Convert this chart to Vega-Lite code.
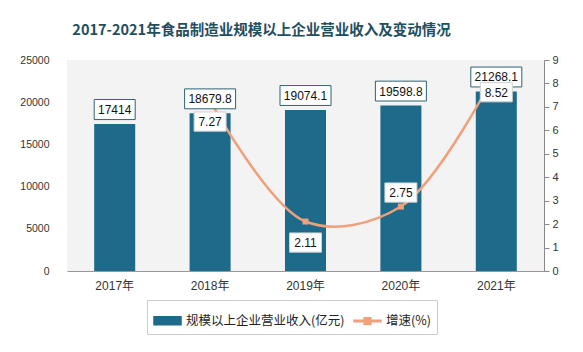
{
  "$schema": "https://vega.github.io/schema/vega-lite/v6.json",
  "width": 477,
  "height": 211,
  "autosize": "none",
  "padding": {"left": 67, "top": 60, "right": 39, "bottom": 81},
  "background": "white",
  "title": {
    "text": "2017-2021年食品制造业规模以上企业营业收入及变动情况",
    "font": "Noto Sans CJK SC",
    "fontSize": 14.5,
    "fontWeight": "bold",
    "color": "#1f4e5f",
    "anchor": "middle",
    "dx": -44,
    "offset": 16
  },
  "data": {
    "values": [
      {"year": "2017年", "rev": 17414, "growth": null},
      {"year": "2018年", "rev": 18679.8, "growth": 7.27},
      {"year": "2019年", "rev": 19074.1, "growth": 2.11},
      {"year": "2020年", "rev": 19598.8, "growth": 2.75},
      {"year": "2021年", "rev": 21268.1, "growth": 8.52}
    ]
  },
  "encoding": {
    "x": {
      "field": "year",
      "type": "ordinal",
      "scale": {"paddingInner": 0.57, "paddingOuter": 0.285},
      "axis": {
        "title": null,
        "labelAngle": 0,
        "ticks": false,
        "domainColor": "#999999",
        "labelFont": "Liberation Sans, Noto Sans CJK SC",
        "labelFontSize": 12,
        "labelColor": "#333333",
        "labelPadding": 9
      }
    }
  },
  "layer": [
    {
      "mark": {"type": "bar", "color": "#1e6a8b"},
      "encoding": {
        "y": {
          "field": "rev",
          "type": "quantitative",
          "scale": {"domain": [0, 25000]},
          "axis": {
            "orient": "left",
            "title": null,
            "values": [0, 5000, 10000, 15000, 20000, 25000],
            "format": "d",
            "domain": false,
            "ticks": false,
            "grid": false,
            "labelPadding": 18,
            "labelFont": "Liberation Sans",
            "labelFontSize": 10.5,
            "labelColor": "#333333"
          }
        },
        "color": {
          "datum": "规模以上企业营业收入(亿元)",
          "scale": {
            "domain": ["规模以上企业营业收入(亿元)", "增速(%)"],
            "range": ["#1e6a8b", "#f0a07a"]
          },
          "legend": {
            "orient": "none",
            "legendX": 80,
            "legendY": 240,
            "direction": "horizontal",
            "title": null,
            "labelFont": "Noto Sans CJK SC",
            "labelFontSize": 12.5,
            "labelColor": "#222222",
            "strokeColor": "#cccccc",
            "padding": 6,
            "symbolSize": 729,
            "columnPadding": 6,
            "labelLimit": 300,
            "encode": {
              "symbols": {
                "update": {
                  "shape": {"signal": "datum.value == '增速(%)' ? 'M-1,-0.06H1V0.06H-1Z M-0.25,-0.25H0.25V0.25H-0.25Z' : 'M-1,-0.3H1V0.3H-1Z'"},
                  "fill": {"scale": "color", "field": "value"},
                  "fillOpacity": {"value": 1},
                  "stroke": {"value": null},
                  "opacity": {"value": 1}
                }
              }
            }
          }
        }
      }
    },
    {
      "transform": [{"filter": "datum.growth != null"}],
      "encoding": {
        "y": {
          "field": "growth",
          "type": "quantitative",
          "scale": {"domain": [0, 9]},
          "axis": {
            "orient": "right",
            "title": null,
            "values": [0, 1, 2, 3, 4, 5, 6, 7, 8, 9],
            "domain": true,
            "domainColor": "#888888",
            "ticks": true,
            "tickColor": "#888888",
            "tickSize": 5,
            "grid": false,
            "labelPadding": 3,
            "labelFont": "Liberation Sans",
            "labelFontSize": 11,
            "labelColor": "#333333"
          }
        },
        "color": {"datum": "增速(%)"}
      },
      "layer": [
        {"mark": {"type": "line", "strokeWidth": 2.5, "interpolate": "catmull-rom"}},
        {"mark": {"type": "point", "shape": "square", "filled": true, "size": 36, "opacity": 1}}
      ]
    },
    {
      "encoding": {
        "y": {
          "field": "rev",
          "type": "quantitative",
          "scale": {"domain": [0, 25000]},
          "axis": null
        }
      },
      "layer": [
        {
          "transform": [{"filter": "datum.rev % 1 == 0"}],
          "mark": {
            "type": "point",
            "shape": "M-1,-0.49H1V0.49H-1Z",
            "size": 1681,
            "filled": true,
            "fill": "white",
            "stroke": "#2d6375",
            "strokeWidth": 1,
            "opacity": 1,
            "yOffset": -14.5
          }
        },
        {
          "transform": [{"filter": "datum.rev % 1 != 0"}],
          "mark": {
            "type": "point",
            "shape": "M-1,-0.39H1V0.39H-1Z",
            "size": 2601,
            "filled": true,
            "fill": "white",
            "stroke": "#2d6375",
            "strokeWidth": 1,
            "opacity": 1,
            "yOffset": -14.5
          }
        },
        {
          "mark": {
            "type": "text",
            "font": "Liberation Sans",
            "fontSize": 12,
            "color": "#111111",
            "baseline": "middle",
            "yOffset": -14
          },
          "encoding": {"text": {"field": "rev", "type": "nominal"}}
        }
      ]
    },
    {
      "transform": [{"filter": "datum.growth != null"}],
      "encoding": {
        "y": {
          "field": "growth",
          "type": "quantitative",
          "scale": {"domain": [0, 9]},
          "axis": null
        }
      },
      "layer": [
        {
          "transform": [{"filter": "datum.year != '2020年'"}],
          "mark": {
            "type": "point",
            "shape": "M-1,-0.6H1V0.6H-1Z",
            "size": 1024,
            "filled": true,
            "fill": "white",
            "stroke": "#d0d0d0",
            "strokeWidth": 1,
            "opacity": 1,
            "yOffset": 21
          }
        },
        {
          "transform": [{"filter": "datum.year != '2020年'"}],
          "mark": {
            "type": "text",
            "font": "Liberation Sans",
            "fontSize": 12,
            "color": "#111111",
            "baseline": "middle",
            "yOffset": 21.5
          },
          "encoding": {"text": {"field": "growth", "type": "nominal"}}
        },
        {
          "transform": [{"filter": "datum.year == '2020年'"}],
          "mark": {
            "type": "point",
            "shape": "M-1,-0.6H1V0.6H-1Z",
            "size": 1024,
            "filled": true,
            "fill": "white",
            "stroke": "#d0d0d0",
            "strokeWidth": 1,
            "opacity": 1,
            "yOffset": -14
          }
        },
        {
          "transform": [{"filter": "datum.year == '2020年'"}],
          "mark": {
            "type": "text",
            "font": "Liberation Sans",
            "fontSize": 12,
            "color": "#111111",
            "baseline": "middle",
            "yOffset": -13.5
          },
          "encoding": {"text": {"field": "growth", "type": "nominal"}}
        }
      ]
    }
  ],
  "resolve": {"scale": {"y": "independent"}},
  "config": {
    "view": {"fill": "#f3f3f3", "stroke": null}
  }
}
